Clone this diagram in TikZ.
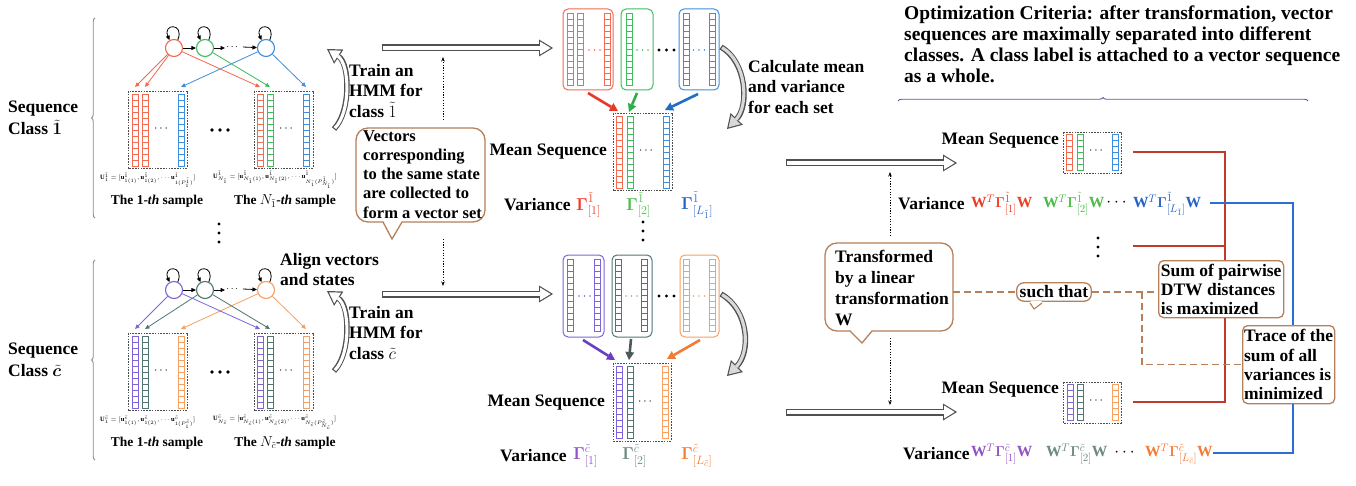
\documentclass[tikz,border=0pt]{standalone}
\usepackage{amsmath,bm}
\usepackage{fontspec}
\setmainfont{Liberation Serif}
\usetikzlibrary{arrows.meta,decorations.pathreplacing,calc}
\definecolor{cRed}{HTML}{F26A4F}
\definecolor{cGreen}{HTML}{3DBD5D}
\definecolor{cBlue}{HTML}{3E8EDE}
\definecolor{cPurple}{HTML}{7E64D8}
\definecolor{cGray}{HTML}{4E7774}
\definecolor{cOrange}{HTML}{F6A062}
\definecolor{tRed}{HTML}{EE3B24}
\definecolor{tGreen}{HTML}{4CBB47}
\definecolor{tBlue}{HTML}{2563C6}
\definecolor{tPurple}{HTML}{9452C2}
\definecolor{tGray}{HTML}{6B8A80}
\definecolor{tOrange}{HTML}{F57C33}
\definecolor{aRed}{HTML}{E8392A}
\definecolor{aGreen}{HTML}{2EAE4E}
\definecolor{aBlue}{HTML}{1F6FC4}
\definecolor{aPurple}{HTML}{6A3FC0}
\definecolor{aGray}{HTML}{4D5A5A}
\definecolor{aOrange}{HTML}{F07B38}
\definecolor{lRed}{HTML}{C0392B}
\definecolor{lBlue}{HTML}{2A6FD6}
\definecolor{cbrown}{HTML}{B5805A}
\definecolor{agray}{HTML}{505050}
\definecolor{bracegray}{HTML}{8A8A8A}

\newcommand\vcol[4]{%
  \draw[#4,line width=0.7pt] (#1,#2) rectangle ++(6,{6*#3});
  \pgfmathtruncatemacro\vcolN{#3-1}%
  \foreach \k in {1,...,\vcolN}{\draw[#4,line width=0.6pt] ({#1},{#2+6*\k}) -- ++(6,0);}%
}
\newcommand\dotrow[5]{\foreach \i in {0,1,2}{\fill[#4] ({#1+#3*\i},{#2}) circle[radius=#5];}}
\newcommand\vdotcol[2]{\foreach \i in {0,1,2}{\fill ({#1},{#2+9*\i}) circle[radius=1.7pt];}}
\newcommand\openarrow[2][white]{\draw[openOuter] #2; \draw[openInner, draw=#1] #2;}
\newcommand\opencurve[2][white]{\draw[openOuter, line width=5.5pt] #2; \draw[openInner, line width=3.1pt, draw=#1] #2;}

\newcommand\hmmblock[8]{%
\begin{scope}[shift={(0,#1)}]
  \draw[bracest] (95,218) -- (95,18);
  \node[lbl, align=left, anchor=west] (#2cls) at (8,118) {Sequence\\[2pt]Class $\bm{#8}$};
  \node[state, draw=#3] (#2a) at (174,48) {};
  \node[state, draw=#4] (#2b) at (205,48) {};
  \node[state, draw=#5] (#2c) at (266,48) {};
  \foreach \s in {a,b,c}{\draw[hmmarr] (#2\s.65) .. controls +(7,-17) and +(-7,-17) .. (#2\s.120);}
  \draw[hmmarr] (#2a) -- (#2b);
  \coordinate (#2d1) at (225,48);
  \draw[hmmarr] (#2b) -- (#2d1);
  \node[inner sep=0pt, font=\fontsize{10}{10}\selectfont] (#2dots) at (233,47) {$\cdots$};
  \draw[hmmarr] ([xshift=3pt]#2dots.east) -- (#2c);
  \draw[samplebox] (128,91) rectangle (187,168);
  \draw[samplebox] (254,91) rectangle (313,168);
  \vcol{132}{94}{12}{#3}\vcol{142}{94}{12}{#6}\vcol{178}{94}{12}{#5}
  \vcol{257}{94}{12}{#3}\vcol{267}{94}{12}{#4}\vcol{303}{94}{12}{#5}
  \node[font=\fontsize{12}{12}\selectfont] (#2in1) at (162,129) {$\cdots$};
  \node[font=\fontsize{12}{12}\selectfont] (#2in2) at (287,129) {$\cdots$};
  \dotrow{212}{130}{8}{black}{1.8pt}
  \coordinate (#2p1) at (135,87); \coordinate (#2p2) at (145,87); \coordinate (#2p3) at (181,87);
  \coordinate (#2q1) at (260,87); \coordinate (#2q2) at (270,87); \coordinate (#2q3) at (306,87);
  \draw[hmmarr,#3] (#2a) -- (#2p1);
  \draw[hmmarr,#6] (#2#7) -- (#2p2);
  \draw[hmmarr,#5] (#2c) -- (#2p3);
  \draw[hmmarr,#3] (#2a) -- (#2q1);
  \draw[hmmarr,#4] (#2b) -- (#2q2);
  \draw[hmmarr,#5] (#2c) -- (#2q3);
  \node[tinylbl, anchor=west] (#2f1) at (100,180) {$\mathbf{U}^{#8}_{1}=[\mathbf{u}^{#8}_{1(1)},\mathbf{u}^{#8}_{1(2)},\cdots\mathbf{u}^{#8}_{1(P^{#8}_{1})}]$};
  \node[tinylbl, anchor=west] (#2f2) at (213,180) {$\mathbf{U}^{#8}_{N_{#8}}=[\mathbf{u}^{#8}_{N_{#8}(1)},\mathbf{u}^{#8}_{N_{#8}(2)},\cdots\mathbf{u}^{#8}_{N_{#8}(P^{#8}_{N_{#8}})}]$};
  \node[smalllbl] (#2s1) at (157,201) {The 1-\textit{th} sample};
  \node[smalllbl] (#2s2) at (285,201) {The $N_{#8}$-\textit{th} sample};
  \node[lbl, align=left, anchor=north west] (#2train) at (349,64) {Train an\\HMM for\\class $#8$};
  \coordinate (#2ca) at (334,129); \coordinate (#2cb) at (327,49);
  \opencurve{(#2ca) .. controls (351,112) and (350,64) .. (#2cb)}
\end{scope}}

\begin{document}
\begin{tikzpicture}[x=1pt,y=-1pt,
  lbl/.style={font=\fontsize{17.5}{20.5}\selectfont\bfseries, inner sep=0pt},
  lblc/.style={font=\fontsize{16.5}{19.3}\selectfont\bfseries, inner sep=0pt},
  boxlbl/.style={font=\fontsize{17.5}{19.2}\selectfont\bfseries},
  wlbl/.style={font=\fontsize{15.5}{18}\selectfont\bfseries, inner sep=0pt},
  smalllbl/.style={font=\fontsize{13.5}{15}\selectfont\bfseries, inner sep=0pt},
  tinylbl/.style={font=\fontsize{6.5}{7.5}\selectfont, inner sep=0pt},
  state/.style={circle, draw, line width=1.1pt, minimum size=17pt, inner sep=0pt},
  hmmarr/.style={line width=0.8pt, -{Triangle[length=4.5pt,width=4pt]}},
  samplebox/.style={draw=gray!60!black, dash pattern=on 1.6pt off 1.2pt, line width=0.8pt},
  setbox/.style={rounded corners=5pt, line width=1pt},
  setarr/.style={line width=2.6pt, -{Triangle[length=8pt,width=9pt,line width=0pt]}},
  bracest/.style={draw=bracegray, line width=0.9pt, decorate, decoration={brace, amplitude=3.5pt}},
  callout/.style={draw=cbrown, line width=1.3pt, fill=white},
  textbox/.style={draw=cbrown, line width=1.3pt, fill=white, rounded corners=5pt, align=left},
  dotarr/.style={line width=0.8pt, dash pattern=on 1.2pt off 1.5pt, -{Stealth[length=4.5pt,width=3.5pt]}},
  openOuter/.style={line width=7pt, draw=agray, -{Triangle[length=14pt,width=17pt,line width=0pt]}},
  openInner/.style={line width=4.6pt, shorten <=1.2pt, shorten >=2.3pt, -{Triangle[length=10.5pt,width=12.8pt,line width=0pt]}},
  redline/.style={draw=lRed, line width=1.8pt},
  blueline/.style={draw=lBlue, line width=1.8pt},
  dashbrown/.style={draw=cbrown, line width=1.1pt, dash pattern=on 7pt off 4pt},
]
\useasboundingbox[fill=white] (0,0) rectangle (1356,486);

% ---------- left: the two classes ----------
\hmmblock{0}{A}{cRed}{cGreen}{cBlue}{cRed}{a}{\tilde{1}}
\hmmblock{242}{B}{cPurple}{cGray}{cOrange}{cGray}{b}{\tilde{c}}
\vdotcol{219}{224}
\node[lbl, align=left, anchor=north west] (align) at (280,253) {Align vectors\\and states};

% ---------- middle-left ----------
\coordinate (L1s) at (382,48); \coordinate (L1e) at (553,48);
\coordinate (L2s) at (382,294); \coordinate (L2e) at (553,294);
\openarrow{(L1s) -- (L1e)}
\openarrow{(L2s) -- (L2e)}
\coordinate (dv1) at (443,120); \coordinate (dv2) at (443,57);
\coordinate (dv3) at (443,239); \coordinate (dv4) at (443,286);
\draw[dotarr] (dv1) -- (dv2);
\draw[dotarr] (dv3) -- (dv4);
\draw[callout, rounded corners=12pt] (356,128) rectangle (485,222);
\fill[white] (383.5,220) -- (401.5,220) -- (401.5,222) -- (392,239) -- (383.5,222) -- cycle;
\draw[cbrown, line width=1.3pt] (383,222) -- (392,239) -- (402,222);
\node[lblc, align=left, anchor=north west] (vecs) at (363,130) {Vectors\\corresponding\\to the same state\\are collected to\\form a vector set};

% ---------- middle: vector sets, class 1 ----------
\draw[setbox, draw=cRed] (563,9) rectangle (613,90);
\vcol{567}{13}{12}{cRed}\vcol{577}{13}{12}{cRed}\vcol{604}{13}{12}{cRed}
\dotrow{589}{50}{5.5}{cRed}{0.9pt}
\draw[setbox, draw=cGreen] (621,9) rectangle (653,90);
\vcol{626}{13}{12}{cGreen}
\dotrow{637}{50}{5.5}{cGreen}{0.9pt}
\dotrow{659}{50}{7.5}{black}{1.6pt}
\draw[setbox, draw=cBlue] (679,9) rectangle (719,90);
\vcol{683}{13}{12}{cBlue}\vcol{709}{13}{12}{cBlue}
\dotrow{693.5}{50}{5.5}{cBlue}{0.9pt}
\draw[samplebox] (613,113) rectangle (672,190);
\vcol{616}{116}{12}{cRed}\vcol{627}{116}{12}{cGreen}\vcol{663}{116}{12}{cBlue}
\node[font=\fontsize{12}{12}\selectfont] (m1dots) at (647,151) {$\cdots$};
\coordinate (r1s) at (588,93); \coordinate (r1e) at (618,111);
\coordinate (g1s) at (637,93); \coordinate (g1e) at (629,112);
\coordinate (b1s) at (698,94); \coordinate (b1e) at (665,110);
\draw[setarr, aRed] (r1s) -- (r1e);
\draw[setarr, aGreen] (g1s) -- (g1e);
\draw[setarr, aBlue] (b1s) -- (b1e);
\node[lbl, anchor=east] (ms1) at (607,152) {Mean Sequence};
\node[lbl, anchor=west] (var1) at (504,205) {Variance};
\node[lbl, anchor=west, text=tRed] (v11) at (576,205) {$\bm{\Gamma}^{\tilde 1}_{[1]}$};
\node[lbl, anchor=west, text=tGreen] (v12) at (626,205) {$\bm{\Gamma}^{\tilde 1}_{[2]}$};
\node[lbl, anchor=west, text=tBlue] (v13) at (681,205) {$\bm{\Gamma}^{\tilde 1}_{[L_{\tilde 1}]}$};
\vdotcol{643}{222}
\coordinate (k1a) at (721,47); \coordinate (k1b) at (727,129);
\opencurve[gray!30]{(k1a) .. controls (747,62) and (749,106) .. (k1b)}
\node[lbl, align=left, anchor=north west] (calc) at (748,60) {Calculate mean\\and variance\\for each set};

% ---------- middle: vector sets, class c ----------
\draw[setbox, draw=cPurple] (563,255) rectangle (604,337);
\vcol{567}{259}{12}{cPurple}\vcol{594}{259}{12}{cPurple}
\dotrow{579}{296}{5.5}{cPurple}{0.9pt}
\draw[setbox, draw=cGray] (612,255) rectangle (652,337);
\vcol{615}{259}{12}{cGray}\vcol{641}{259}{12}{cGray}
\dotrow{626}{296}{5.5}{cGray!60}{0.9pt}
\dotrow{659}{296}{7.5}{black}{1.6pt}
\draw[setbox, draw=cOrange] (680,255) rectangle (719,337);
\vcol{683}{259}{12}{cOrange}\vcol{709}{259}{12}{cOrange}
\dotrow{693.5}{296}{5.5}{cOrange}{0.9pt}
\draw[samplebox] (613,363) rectangle (671,441);
\vcol{616}{366}{12}{cPurple}\vcol{627}{366}{12}{cGray}\vcol{662}{366}{12}{cOrange}
\node[font=\fontsize{12}{12}\selectfont] (m2dots) at (646,402) {$\cdots$};
\coordinate (p2s) at (583,340); \coordinate (p2e) at (615,360);
\coordinate (g2s) at (631,339); \coordinate (g2e) at (629,360);
\coordinate (o2s) at (700,340); \coordinate (o2e) at (667,359);
\draw[setarr, aPurple] (p2s) -- (p2e);
\draw[setarr, aGray] (g2s) -- (g2e);
\draw[setarr, aOrange] (o2s) -- (o2e);
\node[lbl, anchor=east] (ms2) at (605,403) {Mean Sequence};
\node[lbl, anchor=west] (var2) at (500,456) {Variance};
\node[lbl, anchor=west, text=tPurple] (v21) at (573,456) {$\bm{\Gamma}^{\tilde c}_{[1]}$};
\node[lbl, anchor=west, text=tGray] (v22) at (622,456) {$\bm{\Gamma}^{\tilde c}_{[2]}$};
\node[lbl, anchor=west, text=tOrange] (v23) at (681,456) {$\bm{\Gamma}^{\tilde c}_{[L_{\tilde c}]}$};
\coordinate (k2a) at (721,294); \coordinate (k2b) at (727,376);
\opencurve[gray!30]{(k2a) .. controls (749,310) and (751,352) .. (k2b)}

% ---------- right ----------
\node[font=\fontsize{19.5}{20.7}\selectfont\bfseries, align=left, anchor=north west, inner sep=0pt] (crit) at (904,6)
  {Optimization Criteria: after transformation, vector\\sequences are maximally separated into different\\classes. A class label is attached to a vector sequence\\as a whole.};
\draw[bracest, draw=gray!70!blue] (898,101) -- (1308,101);

\coordinate (R1s) at (786,163); \coordinate (R1e) at (957,163);
\coordinate (R2s) at (786,412); \coordinate (R2e) at (957,412);
\openarrow{(R1s) -- (R1e)}
\openarrow{(R2s) -- (R2e)}
\coordinate (dr1) at (890,236); \coordinate (dr2) at (890,172);
\coordinate (dr3) at (890,338); \coordinate (dr4) at (890,405);
\draw[dotarr] (dr1) -- (dr2);
\draw[dotarr] (dr3) -- (dr4);
\draw[callout, rounded corners=12pt] (825,243) rectangle (953,331);
\fill[white] (850.5,329) -- (871.5,329) -- (871.5,331) -- (862,343) -- (850.5,331) -- cycle;
\draw[cbrown, line width=1.3pt] (850,331) -- (862,343) -- (872,331);
\node[font=\fontsize{17.5}{21}\selectfont\bfseries, inner sep=0pt, align=left, anchor=north west] (trf) at (835,250) {Transformed\\by a linear\\transformation\\W};

% right mean sequences
\node[lbl, anchor=east] (ms3) at (1059,141) {Mean Sequence};
\draw[samplebox] (1063,132) rectangle (1121,173);
\vcol{1066}{134}{6}{cRed}\vcol{1077}{134}{6}{cGreen}\vcol{1112}{134}{6}{cBlue}
\node[font=\fontsize{12}{12}\selectfont] (m3dots) at (1097,151) {$\cdots$};
\node[lbl, anchor=east] (ms4) at (1059,390) {Mean Sequence};
\draw[samplebox] (1063,382) rectangle (1121,423);
\vcol{1067}{384}{6}{cPurple}\vcol{1077}{384}{6}{cGray}\vcol{1112}{384}{6}{cOrange}
\node[font=\fontsize{12}{12}\selectfont] (m4dots) at (1097,401) {$\cdots$};

\node[lbl, anchor=west] (var3) at (898,204) {Variance};
\node[wlbl, anchor=west, text=tRed] (w11) at (971,204) {$\mathbf{W}^{T}\bm{\Gamma}^{\tilde 1}_{[1]}\mathbf{W}$};
\node[wlbl, anchor=west, text=tGreen] (w12) at (1043,204) {$\mathbf{W}^{T}\bm{\Gamma}^{\tilde 1}_{[2]}\mathbf{W}$};
\node[lbl, anchor=center] (w1d) at (1118,203) {$\cdots$};
\node[wlbl, anchor=west, text=tBlue] (w13) at (1133,204) {$\mathbf{W}^{T}\bm{\Gamma}^{\tilde 1}_{[L_{\tilde 1}]}\mathbf{W}$};
\vdotcol{1098}{238}
\node[lbl, anchor=west] (var4) at (903,454) {Variance};
\node[wlbl, anchor=west, text=tPurple] (w21) at (971,454) {$\mathbf{W}^{T}\bm{\Gamma}^{\tilde c}_{[1]}\mathbf{W}$};
\node[wlbl, anchor=west, text=tGray] (w22) at (1046,454) {$\mathbf{W}^{T}\bm{\Gamma}^{\tilde c}_{[2]}\mathbf{W}$};
\node[lbl, anchor=center] (w2d) at (1126,453) {$\cdots$};
\node[wlbl, anchor=west, text=tOrange] (w23) at (1145,454) {$\mathbf{W}^{T}\bm{\Gamma}^{\tilde c}_{[L_{\tilde c}]}\mathbf{W}$};

% criteria boxes
\node[textbox, boxlbl, inner xsep=1pt, inner ysep=1pt, minimum width=125pt, minimum height=57pt, anchor=north west] (sum) at (1158,260) {Sum of pairwise\\DTW distances\\is maximized};
\node[textbox, boxlbl, inner xsep=1pt, inner ysep=1pt, minimum width=92pt, minimum height=78pt, anchor=north west] (trace) at (1242,325) {Trace of the\\sum of all\\variances is\\minimized};
\node[callout, lbl, rounded corners=7pt, inner xsep=3pt, inner ysep=3pt] (such) at (1054,292) {such that};
\fill[white] (1030.5,301) -- (1041.5,301) -- (1041.5,303) -- (1034,309) -- (1030.5,303) -- cycle;
\draw[cbrown, line width=1.1pt] (1030,303) -- (1034,309) -- (1042,303);

% connectors
\coordinate (rv) at (1225,0); \coordinate (bv) at (1293,0);
\coordinate (mt) at (1133,152); \coordinate (md) at (1133,246); \coordinate (mb) at (1133,402);
\coordinate (vt) at (1210,203); \coordinate (vb) at (1213,453);
\draw[redline] (mt) -| (sum.north -| rv);
\draw[redline] (md) -- (md -| rv);
\draw[redline] (mb) -| (sum.south -| rv);
\draw[blueline] (vt) -| (trace.north -| bv);
\draw[blueline] (vb) -| (trace.south -| bv);
\coordinate (tre) at (953,292);
\coordinate (dj) at (1142,292);
\draw[dashbrown] (tre) -- (such.west);
\draw[dashbrown] (such.east) -- (such.east -| sum.west);
\draw[dashbrown] (dj) |- (trace.west);
\end{tikzpicture}
\end{document}
